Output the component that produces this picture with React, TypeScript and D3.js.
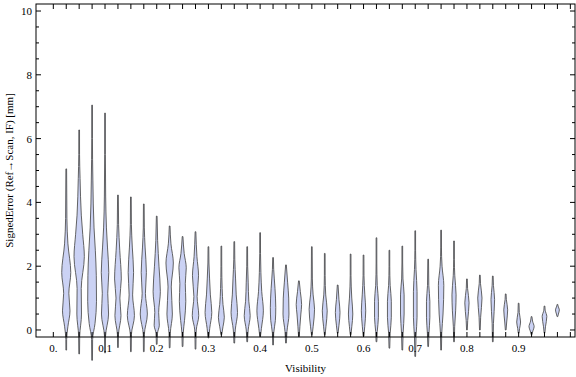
import React from "react";
import * as d3 from "d3";

// violin positions on the Visibility axis
const visibility = [
  0.025, 0.05, 0.075, 0.1, 0.125, 0.15, 0.175, 0.2, 0.225, 0.25, 0.275, 0.3, 0.325,
  0.35, 0.375, 0.4, 0.425, 0.45, 0.475, 0.5, 0.525, 0.55, 0.575, 0.6, 0.625, 0.65,
  0.675, 0.7, 0.725, 0.75, 0.775, 0.8, 0.825, 0.85, 0.875, 0.9, 0.925, 0.95, 0.975,
];

// density profile of each violin: [signed error, relative width]
const profiles: [number, number][][] = [
  [[-0.63, 0], [-0.3, 0.06], [0.1, 0.25], [0.6, 0.58], [1.15, 0.4], [1.8, 0.7], [2.7, 0.26], [3.5, 0.1], [5.05, 0]],
  [[-0.75, 0], [-0.2, 0.08], [0.5, 0.36], [1.3, 0.32], [2.3, 0.8], [3.0, 0.55], [3.6, 0.33], [4.75, 0.14], [5.5, 0.06], [6.27, 0]],
  [[-0.95, 0], [-0.3, 0.08], [0.2, 0.45], [0.9, 0.68], [1.7, 0.65], [2.5, 0.5], [3.2, 0.3], [4.7, 0.12], [6.0, 0.05], [7.05, 0]],
  [[-0.72, 0], [-0.2, 0.08], [0.5, 0.55], [1.15, 0.42], [1.8, 0.58], [2.6, 0.38], [3.2, 0.22], [4.2, 0.1], [5.5, 0.04], [6.8, 0]],
  [[-0.55, 0], [-0.15, 0.08], [0.45, 0.47], [1.0, 0.3], [1.6, 0.52], [2.5, 0.28], [3.3, 0.1], [4.23, 0]],
  [[-0.68, 0], [-0.15, 0.08], [0.45, 0.55], [1.1, 0.27], [1.8, 0.42], [2.6, 0.22], [3.3, 0.08], [4.17, 0]],
  [[-0.68, 0], [-0.15, 0.08], [0.5, 0.55], [1.15, 0.25], [1.8, 0.4], [2.6, 0.2], [3.2, 0.08], [3.95, 0]],
  [[-0.45, 0], [-0.1, 0.12], [0.15, 0.4], [0.55, 0.3], [1.2, 0.56], [2.0, 0.35], [2.8, 0.14], [3.57, 0]],
  [[-0.56, 0], [-0.1, 0.1], [0.5, 0.42], [1.35, 0.25], [2.1, 0.57], [2.7, 0.2], [3.26, 0]],
  [[-0.52, 0], [-0.1, 0.1], [0.3, 0.3], [0.9, 0.5], [1.45, 0.42], [1.95, 0.57], [2.4, 0.25], [2.93, 0]],
  [[-0.6, 0], [0.0, 0.12], [0.45, 0.5], [1.05, 0.25], [1.7, 0.47], [2.3, 0.22], [3.08, 0]],
  [[-0.25, 0], [0.05, 0.2], [0.55, 0.52], [1.1, 0.3], [1.6, 0.18], [2.1, 0.08], [2.61, 0]],
  [[-0.15, 0], [0.1, 0.25], [0.4, 0.46], [0.8, 0.25], [1.3, 0.12], [2.0, 0.06], [2.63, 0]],
  [[-0.41, 0], [0.0, 0.15], [0.55, 0.5], [1.1, 0.3], [1.6, 0.2], [2.2, 0.08], [2.77, 0]],
  [[-0.37, 0], [0.0, 0.15], [0.45, 0.46], [0.9, 0.25], [1.5, 0.15], [2.0, 0.07], [2.61, 0]],
  [[-0.2, 0], [0.05, 0.2], [0.6, 0.5], [1.2, 0.25], [1.8, 0.12], [2.4, 0.06], [3.05, 0]],
  [[-0.47, 0], [-0.1, 0.1], [0.3, 0.36], [0.7, 0.42], [1.3, 0.3], [1.9, 0.1], [2.27, 0]],
  [[-0.41, 0], [-0.05, 0.15], [0.5, 0.46], [1.0, 0.42], [1.5, 0.25], [2.04, 0]],
  [[-0.2, 0], [0.1, 0.15], [0.5, 0.3], [0.8, 0.42], [1.2, 0.22], [1.54, 0]],
  [[-0.15, 0], [0.1, 0.2], [0.65, 0.42], [1.1, 0.2], [1.6, 0.08], [2.61, 0]],
  [[-0.15, 0], [0.1, 0.18], [0.6, 0.38], [1.1, 0.15], [1.7, 0.06], [2.4, 0]],
  [[-0.1, 0], [0.15, 0.2], [0.55, 0.36], [0.95, 0.2], [1.41, 0]],
  [[-0.15, 0], [0.1, 0.18], [0.5, 0.34], [1.0, 0.18], [1.7, 0.06], [2.38, 0]],
  [[-0.2, 0], [0.1, 0.18], [0.6, 0.34], [1.1, 0.2], [1.7, 0.07], [2.35, 0]],
  [[-0.37, 0], [-0.05, 0.12], [0.4, 0.3], [0.9, 0.3], [1.4, 0.12], [2.1, 0.05], [2.89, 0]],
  [[-0.57, 0], [-0.1, 0.12], [0.4, 0.3], [0.9, 0.3], [1.4, 0.12], [2.0, 0.05], [2.5, 0]],
  [[-0.63, 0], [-0.1, 0.12], [0.5, 0.28], [1.1, 0.28], [1.6, 0.1], [2.1, 0.04], [2.63, 0]],
  [[-0.83, 0], [-0.2, 0.12], [0.4, 0.28], [1.2, 0.28], [1.9, 0.12], [2.5, 0.05], [3.11, 0]],
  [[-0.52, 0], [-0.1, 0.12], [0.4, 0.26], [0.9, 0.26], [1.4, 0.1], [2.22, 0]],
  [[-0.63, 0], [-0.1, 0.1], [0.5, 0.3], [1.4, 0.42], [2.0, 0.15], [2.6, 0.05], [3.13, 0]],
  [[-0.37, 0], [0.1, 0.1], [0.6, 0.25], [1.1, 0.32], [1.7, 0.12], [2.2, 0.05], [2.79, 0]],
  [[0.0, 0], [0.3, 0.12], [0.85, 0.33], [1.3, 0.1], [1.6, 0]],
  [[0.0, 0], [0.4, 0.12], [1.0, 0.33], [1.45, 0.1], [1.72, 0]],
  [[-0.37, 0], [0.2, 0.1], [0.95, 0.28], [1.4, 0.1], [1.69, 0]],
  [[0.0, 0], [0.25, 0.15], [0.63, 0.3], [0.95, 0.1], [1.13, 0]],
  [[-0.1, 0], [0.05, 0.15], [0.25, 0.3], [0.55, 0.1], [0.84, 0]],
  [[-0.15, 0], [-0.03, 0.2], [0.1, 0.4], [0.28, 0.15], [0.42, 0]],
  [[-0.1, 0], [0.1, 0.15], [0.42, 0.36], [0.62, 0.1], [0.75, 0]],
  [[0.42, 0], [0.5, 0.15], [0.63, 0.3], [0.75, 0.1], [0.8, 0]],
];

const xTickValues = [0, 0.1, 0.2, 0.3, 0.4, 0.5, 0.6, 0.7, 0.8, 0.9];
const xTickLabels = ["0.", "0.1", "0.2", "0.3", "0.4", "0.5", "0.6", "0.7", "0.8", "0.9"];
const yTickValues = [0, 2, 4, 6, 8, 10];

const W = 576;
const H = 377;
const left = 36, right = 575, top = 4, bottom = 337;

const App = () => {
  const x = d3.scaleLinear().domain([-0.0335, 1.009]).range([left, right]);
  const y = d3.scaleLinear().domain([-0.22, 10.22]).range([bottom, top]);
  const step = x(0.025) - x(0);

  // minor x ticks at every violin slot
  const xMinor = d3.range(0, 41).map((i) => i * 0.025);
  const yMinor = d3.range(0, 21).map((i) => i * 0.5).filter((v) => v % 2 !== 0);

  const font = "'Liberation Serif', 'Times New Roman', serif";

  return (
    <svg width={W} height={H} style={{ position: "absolute", left: 0, top: 0, background: "#fff" }}>
      {/* violins */}
      {profiles.map((pts, i) => {
        const cx = x(visibility[i]);
        const area = d3
          .area<[number, number]>()
          .y((d) => y(d[0]))
          .x0((d) => cx - Math.max(0.35, (d[1] * step) / 2))
          .x1((d) => cx + Math.max(0.35, (d[1] * step) / 2))
          .curve(d3.curveMonotoneY);
        return (
          <path
            key={i}
            d={area(pts) || ""}
            fill="#cbd2f4"
            stroke="#4a4a4a"
            strokeOpacity={0.85}
            strokeWidth={1}
          />
        );
      })}

      {/* frame */}
      <rect x={left} y={top} width={right - left} height={bottom - top} fill="none" stroke="#000" strokeWidth={1} />

      {/* x ticks bottom and top */}
      {xMinor.map((v, i) => (
        <g key={"xt" + i} stroke="#000" strokeWidth={1}>
          <line x1={x(v)} x2={x(v)} y1={bottom} y2={bottom - 5} />
          <line x1={x(v)} x2={x(v)} y1={top} y2={top + 5} />
        </g>
      ))}

      {/* y ticks left and right */}
      {yTickValues.map((v) => (
        <g key={"yt" + v} stroke="#000" strokeWidth={1}>
          <line x1={left} x2={left + 5} y1={y(v)} y2={y(v)} />
          <line x1={right} x2={right - 5} y1={y(v)} y2={y(v)} />
        </g>
      ))}
      {yMinor.map((v) => (
        <g key={"ym" + v} stroke="#000" strokeWidth={1}>
          <line x1={left} x2={left + 3} y1={y(v)} y2={y(v)} />
          <line x1={right} x2={right - 3} y1={y(v)} y2={y(v)} />
        </g>
      ))}

      {/* tick labels */}
      {xTickValues.map((v, i) => (
        <text key={"xl" + i} x={x(v)} y={bottom + 15} textAnchor="middle" fontFamily={font} fontSize={11} fill="#000">
          {xTickLabels[i]}
        </text>
      ))}
      {yTickValues.map((v) => (
        <text key={"yl" + v} x={left - 4} y={y(v) + 4} textAnchor="end" fontFamily={font} fontSize={11} fill="#000">
          {v}
        </text>
      ))}

      {/* axis titles */}
      <text x={(left + right) / 2} y={372} textAnchor="middle" fontFamily={font} fontSize={11} fill="#000">
        Visibility
      </text>
      <text
        transform={`translate(13, ${(top + bottom) / 2}) rotate(-90)`}
        textAnchor="middle"
        fontFamily={font}
        fontSize={11}
        fill="#000"
      >
        SignedError (Ref→Scan, IF) [mm]
      </text>
    </svg>
  );
};

export default App;
